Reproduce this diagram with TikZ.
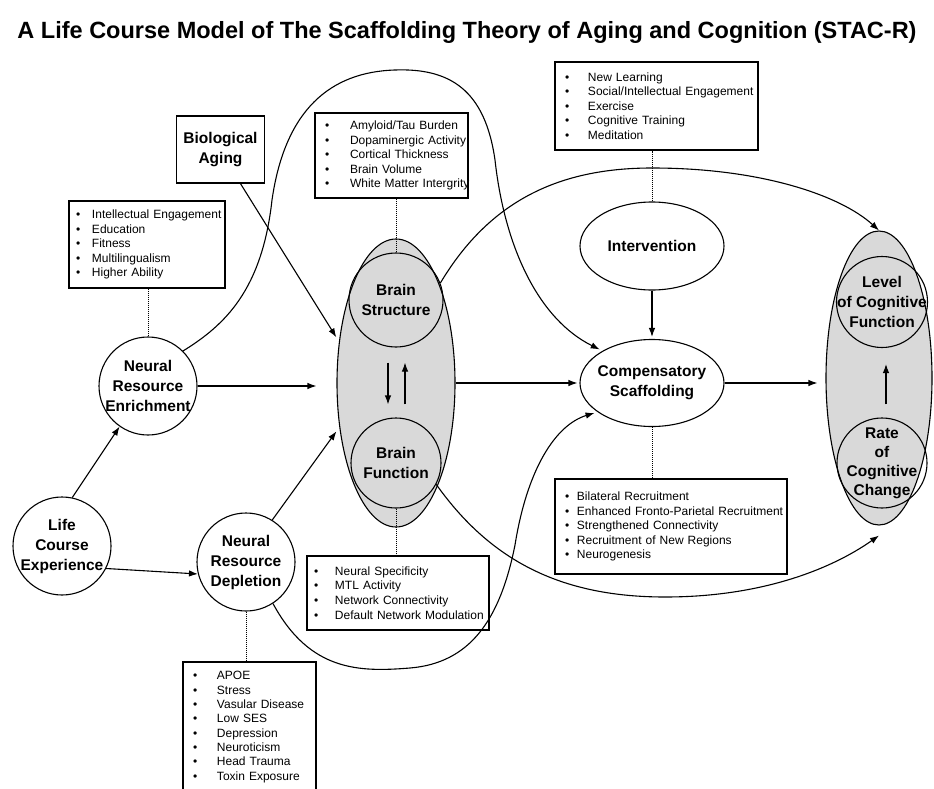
\documentclass[tikz,border=0pt]{standalone}
\usepackage{fontspec}
\setmainfont{Liberation Sans}
\usetikzlibrary{shapes.geometric,arrows.meta}
\newcommand{\bi}[2][16pt]{\mbox{\makebox[#1][l]{\textbullet}#2}}
\tikzset{
  bub/.style={circle, draw, line width=1.1pt, inner sep=0pt, minimum size=#1},
  oval/.style={ellipse, draw, line width=1.1pt, inner sep=0pt},
  txt/.style={align=center, font=\bfseries\fontsize{15.5}{20}\selectfont},
  lst/.style={draw, line width=1.1pt, align=left, inner ysep=0pt, font=\fontsize{12}{14.6}\selectfont},
  arr/.style={line width=1.1pt, -{Latex[length=9pt,width=6.5pt]}},
  dots/.style={densely dotted, line width=1pt},
}
\begin{document}
\begin{tikzpicture}[x=1pt, y=-1pt]
\useasboundingbox (0,0) rectangle (934,789);
\clip (0,0) rectangle (934,789);
\node[font=\bfseries\fontsize{23.5}{26}\selectfont] (title) at (467,32) {A Life Course Model of The Scaffolding Theory of Aging and Cognition (STAC-R)};
\node[oval, fill=gray!30, minimum width=118, minimum height=288] (brain) at (396,383) {};
\node[oval, fill=gray!30, minimum width=106, minimum height=294] (cog) at (879,378) {};
\node[bub=98, label={[txt]center:Life\\Course\\Experience}] (life) at (62,546) {};
\node[bub=98, label={[txt]center:Neural\\Resource\\Enrichment}] (enr) at (148,386) {};
\node[bub=98, label={[txt]center:Neural\\Resource\\Depletion}] (depl) at (246,562) {};
\node[bub=94, label={[txt]center:Brain\\Structure}] (bstruct) at (396,300) {};
\node[bub=90, label={[txt]center:Brain\\Function}] (bfunc) at (396,463) {};
\node[oval, minimum width=144, minimum height=88, label={[txt]center:Intervention}] (interv) at (652,246) {};
\node[oval, minimum width=144, minimum height=87, label={[txt]center:Compensatory\\Scaffolding}] (comp) at (652,383) {};
\node[bub=91, label={[txt]center:Level\\of Cognitive\\Function}] (level) at (882,302) {};
\node[bub=90, label={[txt, font=\bfseries\fontsize{15.5}{19}\selectfont]center:Rate\\of\\Cognitive\\Change}] (rate) at (882,463) {};
\node[draw, line width=1.3pt, minimum width=88, minimum height=67, txt] (bio) at (220.5,149.5) {Biological\\Aging};
\node[lst, text width=142, inner xsep=7, minimum height=87] (enrbox) at (147,244.5) {\bi{Intellectual Engagement}\\\bi{Education}\\\bi{Fitness}\\\bi{Multilingualism}\\\bi{Higher Ability}};
\node[lst, text width=133, inner xsep=10, minimum height=85] (bsbox) at (391.5,155.5) {\bi[25pt]{Amyloid/Tau Burden}\\\bi[25pt]{Dopaminergic Activity}\\\bi[25pt]{Cortical Thickness}\\\bi[25pt]{Brain Volume}\\\bi[25pt]{White Matter Intergrity}};
\node[lst, text width=168, inner xsep=7, minimum height=74] (bfbox) at (398,593) {\bi[21pt]{Neural Specificity}\\\bi[21pt]{MTL Activity}\\\bi[21pt]{Network Connectivity}\\\bi[21pt]{Default Network Modulation}};
\node[lst, text width=113, inner xsep=10, minimum height=130, font=\fontsize{12}{14.3}\selectfont] (deplbox) at (249.5,727) {\bi[24pt]{APOE}\\\bi[24pt]{Stress}\\\bi[24pt]{Vasular Disease}\\\bi[24pt]{Low SES}\\\bi[24pt]{Depression}\\\bi[24pt]{Neuroticism}\\\bi[24pt]{Head Trauma}\\\bi[24pt]{Toxin Exposure}};
\node[lst, text width=183, inner xsep=10, minimum height=88] (intbox) at (656.5,106) {\bi[23pt]{New Learning}\\\bi[23pt]{Social/Intellectual Engagement}\\\bi[23pt]{Exercise}\\\bi[23pt]{Cognitive Training}\\\bi[23pt]{Meditation}};
\node[lst, text width=212, inner xsep=10, minimum height=95] (compbox) at (671,526.5) {\bi[12pt]{Bilateral Recruitment}\\\bi[12pt]{Enhanced Fronto-Parietal Recruitment}\\\bi[12pt]{Strengthened Connectivity}\\\bi[12pt]{Recruitment of New Regions}\\\bi[12pt]{Neurogenesis}};
\draw[dots] (enr.north) -- (enr.north |- enrbox.south);
\draw[dots] (bstruct.north) -- (bstruct.north |- bsbox.south);
\draw[dots] (bfunc.south) -- (bfunc.south |- bfbox.north);
\draw[dots] (depl.south) -- (depl.south |- deplbox.north);
\draw[dots] (interv.north) -- (interv.north |- intbox.south);
\draw[dots] (comp.south) -- (comp.south |- compbox.north);
\draw[arr] (life.78) -- (enr.235);
\draw[arr] (life.-27) -- (depl.194);
\draw[arr, shorten >=20] (enr.east) -- (enr.east -| brain.west);
\draw[arr, shorten >=5] ([xshift=20]bio.south) -- (brain.144);
\draw[arr, shorten >=5] (depl.58) -- (brain.218);
\draw[arr, shorten <=15, shorten >=13] ([xshift=-8]bstruct.south) -- ([xshift=-8]bfunc.north);
\draw[arr, shorten <=13, shorten >=15] ([xshift=9]bfunc.north) -- ([xshift=9]bstruct.south);
\draw[arr, shorten >=2] (brain.east) -- (comp.west);
\draw[arr, shorten >=2] (interv.south) -- (comp.north);
\draw[arr, shorten >=8] (comp.east) -- (comp.east -| cog.west);
\draw[arr, shorten <=13, shorten >=16] ([xshift=4]rate.north) -- ([xshift=4]level.south);
\draw[arr, shorten >=3] (enr.45) .. controls (225,325) and (262,290) .. (272,200) .. controls (285,110) and (330,72) .. (395,70) .. controls (450,68) and (485,90) .. (495,160) .. controls (505,250) and (540,320) .. (comp.147);
\draw[arr] (bstruct.21) .. controls (490,200) and (560,168) .. (652,168) .. controls (760,168) and (840,195) .. (cog.north);
\draw[arr] (bfunc.-28) .. controls (490,560) and (560,597) .. (665,597) .. controls (760,597) and (830,570) .. ([yshift=-10]cog.south);
\draw[arr, shorten >=3] (depl.-57) .. controls (310,672) and (360,672) .. (410,668) .. controls (470,663) and (500,620) .. (515,545) .. controls (527,470) and (555,425) .. (comp.208);
\end{tikzpicture}
\end{document}
